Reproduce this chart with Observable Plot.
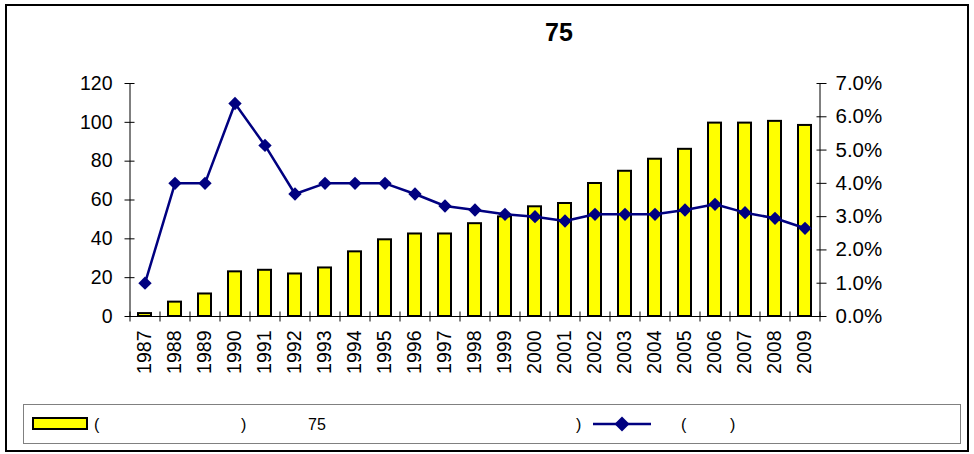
<!DOCTYPE html>
<html><head><meta charset="utf-8">
<script src="https://cdn.jsdelivr.net/npm/d3@7"></script>
<script src="https://cdn.jsdelivr.net/npm/@observablehq/plot@0.6"></script>
<style>
body{margin:0;background:#fff;font-family:Arial,"Liberation Sans",sans-serif;}
#wrap{position:relative;width:974px;height:454px;overflow:hidden;background:#fff;}
#chart{position:absolute;left:0;top:0;}
#chart svg text{font-family:Arial,"Liberation Sans",sans-serif !important;}
#chart g[aria-label="x-axis tick label"],
#chart g[aria-label="x-axis tick label"] text{font-size:19.5px !important;}
#chart g[aria-label="y-axis tick label"][text-anchor="end"],
#chart g[aria-label="y-axis tick label"][text-anchor="end"] text{font-size:19.5px !important;}
#chart g[aria-label="y-axis tick label"][text-anchor="start"],
#chart g[aria-label="y-axis tick label"][text-anchor="start"] text{font-size:20.5px !important;}
#border{position:absolute;left:5px;top:4px;width:960px;height:444px;border:2px solid #000;}
#title{position:absolute;left:459px;width:200px;top:17px;text-align:center;font-weight:bold;font-size:25px;line-height:30px;}
#legend{position:absolute;left:23px;top:404px;width:936px;height:38px;border:1.5px solid #808080;}
.lt{position:absolute;top:11px;font-size:16px;line-height:18px;color:#000;white-space:pre;}
#swatch{position:absolute;left:8px;top:12px;width:56px;height:13px;box-sizing:border-box;background:#ffff00;border:2px solid #000;}
#lineSw{position:absolute;left:568px;top:10px;}
</style></head><body>
<div id="wrap">
  <div id="chart"></div>
  <div id="border"></div>
  <div id="title">75</div>
  <div id="legend">
    <div id="swatch"></div>
    <div class="lt" style="left:70px">(</div>
    <div class="lt" style="left:217px">)</div>
    <div class="lt" style="left:284px">75</div>
    <div class="lt" style="left:552px">)</div>
    <svg id="lineSw" width="62" height="18"><line x1="1" y1="9" x2="59" y2="9" stroke="#000080" stroke-width="2.5"/><path d="M30,1.5L37.5,9L30,16.5L22.5,9Z" fill="#000080"/></svg>
    <div class="lt" style="left:657px">(</div>
    <div class="lt" style="left:706px">)</div>
  </div>
</div>
<script>
const years = ["1987","1988","1989","1990","1991","1992","1993","1994","1995","1996","1997","1998","1999","2000","2001","2002","2003","2004","2005","2006","2007","2008","2009"];
const amounts = [1.5, 7.4, 11.6, 23, 23.8, 21.9, 25, 33.3, 39.5, 42.5, 42.5, 47.8, 51.3, 56.5, 58.2, 68.5, 74.8, 81, 86.1, 99.6, 99.6, 100.5, 98.4];
const rates = [1.0, 4.0, 4.0, 6.4, 5.14, 3.68, 4.0, 4.0, 4.0, 3.68, 3.32, 3.2, 3.07, 3.0, 2.87, 3.07, 3.07, 3.07, 3.2, 3.37, 3.12, 2.95, 2.65];
const leftTicks = [0, 20, 40, 60, 80, 100, 120];
const rightTicks = [0, 1, 2, 3, 4, 5, 6, 7];

const leftMax = 120, rightMax = 7;
const toLeft = p => p * leftMax / rightMax;
const data = years.map((y, i) => ({year: y, amount: amounts[i], rate: rates[i]}));

const W = 974, H = 400, mL = 130, mR = 154, mT = 83, mB = 84;
const step = (W - mL - mR) / years.length;

const hTick = (a, b) => ({draw(ctx) { ctx.moveTo(a, 0); ctx.lineTo(b, 0); }});
const vTick = {draw(ctx) { ctx.moveTo(0, -5); ctx.lineTo(0, 5); }};

const chart = Plot.plot({
  width: W, height: H,
  marginLeft: mL, marginRight: mR, marginTop: mT, marginBottom: mB,
  style: {fontFamily: 'Arial, "Liberation Sans", sans-serif', fontSize: "19px", color: "#000", background: "transparent", overflow: "visible"},
  x: {type: "band", domain: years, paddingInner: 0.55, paddingOuter: 0.275, label: null},
  y: {domain: [0, leftMax], label: null},
  marks: [
    Plot.barY(data, {x: "year", y: "amount", fill: "#ffff00", stroke: "#000", strokeWidth: 2}),
    Plot.ruleY([0], {stroke: "#000", strokeWidth: 1}),
    Plot.ruleX([years[0]], {x: d => d, y1: 0, y2: leftMax, dx: -step / 2, stroke: "#000", strokeWidth: 1}),
    Plot.ruleX([years[years.length - 1]], {x: d => d, y1: 0, y2: leftMax, dx: step / 2, stroke: "#000", strokeWidth: 1}),
    Plot.dot(leftTicks, {y: d => d, frameAnchor: "left", symbol: hTick(-6, 4), stroke: "#000", fill: "none", strokeWidth: 1}),
    Plot.dot(rightTicks.map(toLeft), {y: d => d, frameAnchor: "right", symbol: hTick(-4, 6), stroke: "#000", fill: "none", strokeWidth: 1}),
    Plot.dot(years, {x: d => d, frameAnchor: "bottom", dx: -step / 2, symbol: vTick, stroke: "#000", fill: "none", strokeWidth: 1}),
    Plot.dot([years[years.length - 1]], {x: d => d, frameAnchor: "bottom", dx: step / 2, symbol: vTick, stroke: "#000", fill: "none", strokeWidth: 1}),
    Plot.line(data, {x: "year", y: d => toLeft(d.rate), stroke: "#000080", strokeWidth: 2.5}),
    Plot.dot(data, {x: "year", y: d => toLeft(d.rate), symbol: "diamond2", r: 6, fill: "#000080", stroke: "none"}),
    Plot.axisY({ticks: leftTicks, anchor: "left", tickSize: 0, tickPadding: 18, label: null}),
    Plot.axisY({ticks: rightTicks.map(toLeft), anchor: "right", tickSize: 0, tickPadding: 15, label: null,
      tickFormat: d => (d * rightMax / leftMax).toFixed(1) + "%"}),
    Plot.axisX({anchor: "bottom", tickSize: 0, tickPadding: 14, tickRotate: -90, label: null})
  ]
});
document.getElementById("chart").appendChild(chart);
</script>
</body></html>
